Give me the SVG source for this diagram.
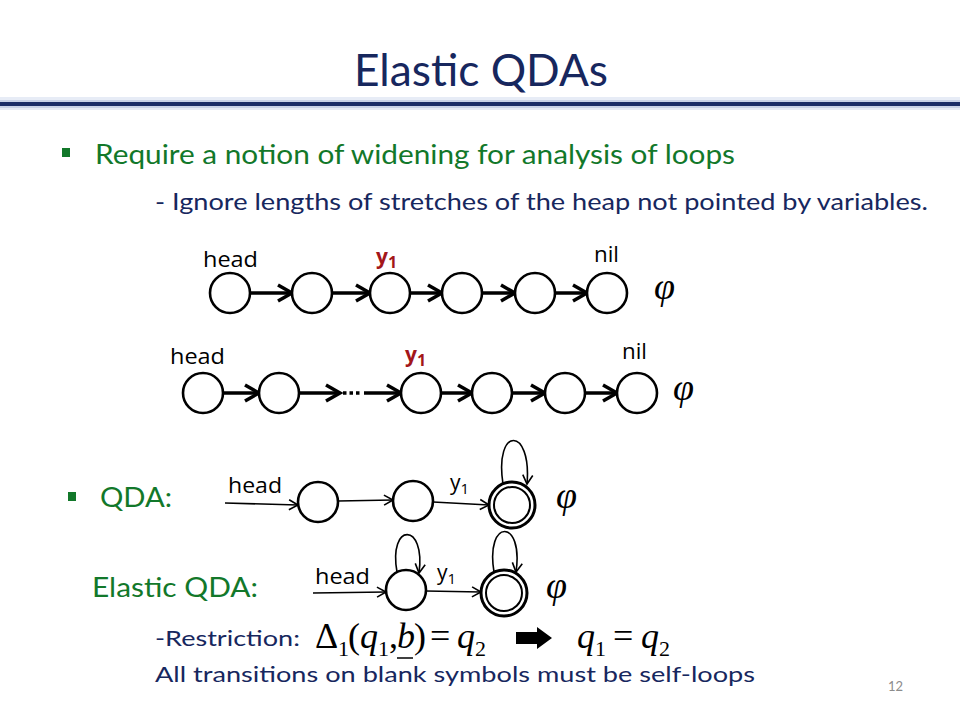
<svg xmlns="http://www.w3.org/2000/svg" width="960" height="720" viewBox="0 0 960 720">
<defs>
<style>
.navy{fill:#17275e;font-family:Lato,"Open Sans","Liberation Sans",sans-serif}
.green{fill:#12782a;font-family:Lato,"Open Sans","Liberation Sans",sans-serif}
.lbl{fill:#000;font-family:"Open Sans","Liberation Sans",sans-serif;font-size:21px}
.red{fill:#a3161a;font-family:"Open Sans","Liberation Sans",sans-serif;font-weight:bold;font-size:21px}
.math{fill:#000;font-family:"Liberation Serif","Times New Roman",serif;font-size:36px}
.mi{font-style:italic}
.sub{font-size:22px}
.phi{fill:#000;font-family:"Liberation Serif",serif;font-style:italic;font-size:38px}
.node{fill:#fff;stroke:#000;stroke-width:2.6}
.thick{stroke:#000;stroke-width:3.5;fill:none}
.thin{stroke:#000;stroke-width:1.6;fill:none}
</style>
<marker id="hk" markerUnits="userSpaceOnUse" markerWidth="30" markerHeight="30" refX="0" refY="0" orient="auto" overflow="visible">
<path d="M-14,-8 L0,0 L-14,8" fill="none" stroke="#000" stroke-width="3.5" stroke-linejoin="miter"/>
</marker>
<marker id="hn" markerUnits="userSpaceOnUse" markerWidth="20" markerHeight="20" refX="0" refY="0" orient="auto" overflow="visible">
<path d="M-9,-5 L0,0 L-9,5" fill="none" stroke="#000" stroke-width="1.6"/>
</marker>
</defs>
<rect width="960" height="720" fill="#fff"/>
<g id="header">
<rect x="0" y="97" width="960" height="13" fill="#e7ecf6"/>
<rect x="0" y="100" width="960" height="8" fill="#c9d3e8"/>
<rect x="0" y="102" width="960" height="4" fill="#1b2e68"/>
<text x="354" y="86" class="navy" font-size="44" textLength="254" lengthAdjust="spacingAndGlyphs">Elastic QDAs</text>
</g>
<g id="bullets">
<rect x="62" y="148" width="8" height="9" fill="#12782a"/>
<text x="95" y="164" class="green" font-size="27" textLength="640" lengthAdjust="spacingAndGlyphs">Require a notion of widening for analysis of loops</text>
<text x="155" y="210" class="navy" font-size="23" textLength="773" lengthAdjust="spacingAndGlyphs">- Ignore lengths of stretches of the heap not pointed by variables.</text>
<rect x="68" y="492" width="8" height="9" fill="#12782a"/>
<text x="100" y="507" class="green" font-size="26" textLength="72" lengthAdjust="spacingAndGlyphs">QDA:</text>
<text x="92" y="597" class="green" font-size="26" textLength="166" lengthAdjust="spacingAndGlyphs">Elastic QDA:</text>
<text x="155" y="646" class="navy" font-size="22" textLength="145" lengthAdjust="spacingAndGlyphs">-Restriction:</text>
<text x="155" y="682" class="navy" font-size="22" textLength="600" lengthAdjust="spacingAndGlyphs">All transitions on blank symbols must be self-loops</text>
<text x="888" y="691" fill="#8c8c8c" font-family="Lato,'Liberation Sans',sans-serif" font-size="13">12</text>
</g>
<g id="connectors">
<line x1="250" y1="293" x2="292" y2="293" class="thick" marker-end="url(#hk)"/>
<line x1="332" y1="293" x2="370" y2="293" class="thick" marker-end="url(#hk)"/>
<line x1="410" y1="293" x2="442" y2="293" class="thick" marker-end="url(#hk)"/>
<line x1="482" y1="293" x2="515" y2="293" class="thick" marker-end="url(#hk)"/>
<line x1="555" y1="293" x2="587" y2="293" class="thick" marker-end="url(#hk)"/>
<line x1="223" y1="393" x2="259" y2="393" class="thick" marker-end="url(#hk)"/>
<line x1="299" y1="393" x2="340" y2="393" class="thick" marker-end="url(#hk)"/>
<line x1="343" y1="393" x2="362" y2="393" stroke="#000" stroke-width="3.5" stroke-dasharray="3.5 3"/>
<line x1="364" y1="393" x2="401" y2="393" class="thick" marker-end="url(#hk)"/>
<line x1="441" y1="393" x2="472" y2="393" class="thick" marker-end="url(#hk)"/>
<line x1="512" y1="393" x2="545" y2="393" class="thick" marker-end="url(#hk)"/>
<line x1="585" y1="393" x2="617" y2="393" class="thick" marker-end="url(#hk)"/>
<line x1="225" y1="503" x2="298" y2="505" class="thin" marker-end="url(#hn)"/>
<line x1="338" y1="501" x2="393" y2="500" class="thin" marker-end="url(#hn)"/>
<line x1="433" y1="502" x2="489" y2="505" class="thin" marker-end="url(#hn)"/>
<path d="M503,484 C494,426 532,426 527,484" class="thin" marker-end="url(#hn)"/>
<line x1="313" y1="593" x2="386" y2="592" class="thin" marker-end="url(#hn)"/>
<line x1="426" y1="591" x2="481" y2="592" class="thin" marker-end="url(#hn)"/>
<path d="M397,572 C388,522 426,522 419,573" class="thin" marker-end="url(#hn)"/>
<path d="M494,572 C485,518 524,518 516,572" class="thin" marker-end="url(#hn)"/>
<polygon points="516,632 537,632 537,627 552,638 537,649 537,644 516,644" fill="#000"/>
</g>
<g id="list1">
<circle cx="230" cy="293" r="20" class="node"/>
<circle cx="312" cy="293" r="20" class="node"/>
<circle cx="390" cy="293" r="20" class="node"/>
<circle cx="462" cy="293" r="20" class="node"/>
<circle cx="535" cy="293" r="20" class="node"/>
<circle cx="607" cy="293" r="20" class="node"/>
<text x="203" y="267" class="lbl" textLength="55" lengthAdjust="spacingAndGlyphs">head</text>
<text x="376" y="264" class="red">y<tspan font-size="16" dy="4">1</tspan></text>
<text x="594" y="262" class="lbl" textLength="25" lengthAdjust="spacingAndGlyphs">nil</text>
<text x="654" y="299" class="phi">φ</text>
</g>
<g id="list2">
<circle cx="203" cy="393" r="20" class="node"/>
<circle cx="279" cy="393" r="20" class="node"/>
<circle cx="421" cy="393" r="20" class="node"/>
<circle cx="492" cy="393" r="20" class="node"/>
<circle cx="565" cy="393" r="20" class="node"/>
<circle cx="637" cy="393" r="20" class="node"/>
<text x="170" y="364" class="lbl" textLength="55" lengthAdjust="spacingAndGlyphs">head</text>
<text x="405" y="362" class="red">y<tspan font-size="16" dy="4">1</tspan></text>
<text x="622" y="359" class="lbl" textLength="25" lengthAdjust="spacingAndGlyphs">nil</text>
<text x="673" y="400" class="phi">φ</text>
</g>
<g id="qda">
<circle cx="318" cy="502" r="20" class="node"/>
<circle cx="413" cy="501" r="20" class="node"/>
<circle cx="512" cy="505" r="23" fill="#fff" stroke="#000" stroke-width="3"/>
<circle cx="512" cy="505" r="18" fill="none" stroke="#000" stroke-width="2"/>
<text x="228" y="493" class="lbl" textLength="54" lengthAdjust="spacingAndGlyphs">head</text>
<text x="450" y="490" class="lbl">y<tspan font-size="15" dy="4">1</tspan></text>
<text x="556" y="508" class="phi">φ</text>
</g>
<g id="elastic-qda">
<circle cx="406" cy="590" r="20" class="node"/>
<circle cx="504" cy="593" r="23" fill="#fff" stroke="#000" stroke-width="3"/>
<circle cx="504" cy="593" r="18" fill="none" stroke="#000" stroke-width="2"/>
<text x="315" y="584" class="lbl" textLength="55" lengthAdjust="spacingAndGlyphs">head</text>
<text x="437" y="580" class="lbl">y<tspan font-size="15" dy="4">1</tspan></text>
<text x="546" y="598" class="phi">φ</text>
</g>
<g id="formula">
<text x="315" y="648" class="math">Δ</text>
<text x="338" y="656" class="math sub">1</text>
<text x="348" y="648" class="math">(</text>
<text x="360" y="648" class="math mi">q</text>
<text x="378" y="656" class="math sub">1</text>
<text x="389" y="648" class="math">,</text>
<text x="397" y="648" class="math mi">b</text>
<line x1="397" y1="658" x2="413" y2="658" stroke="#000" stroke-width="1.5"/>
<text x="414" y="648" class="math">)</text>
<text x="430" y="648" class="math">=</text>
<text x="457" y="648" class="math mi">q</text>
<text x="475" y="656" class="math sub">2</text>
<text x="577" y="648" class="math mi">q</text>
<text x="595" y="656" class="math sub">1</text>
<text x="613" y="648" class="math">=</text>
<text x="641" y="648" class="math mi">q</text>
<text x="659" y="656" class="math sub">2</text>
</g>
</svg>
